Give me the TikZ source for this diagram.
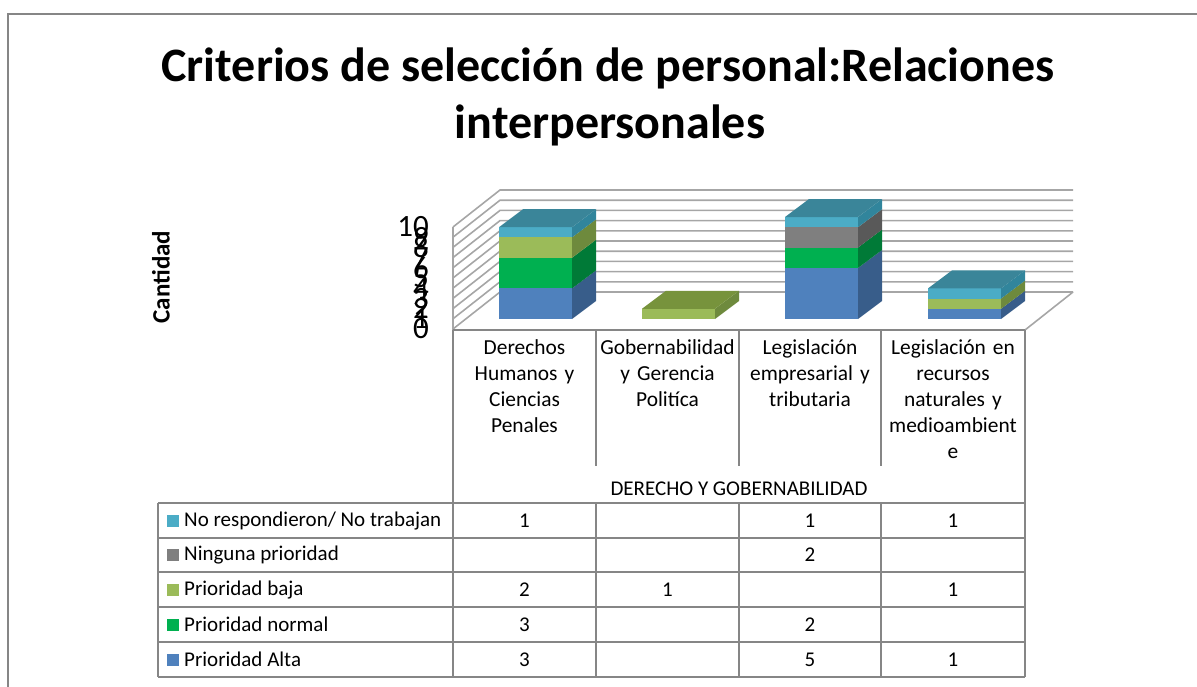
\documentclass[tikz,border=0pt]{standalone}
\usepackage{fontspec}
\setmainfont{Carlito}
\definecolor{calta}{HTML}{4F81BD}
\definecolor{caltaside}{HTML}{385D8A}
\definecolor{caltatop}{HTML}{41699C}
\definecolor{cnorm}{HTML}{00B050}
\definecolor{cnormside}{HTML}{007A37}
\definecolor{cnormtop}{HTML}{008F41}
\definecolor{cbaja}{HTML}{9BBB59}
\definecolor{cbajaside}{HTML}{6E8A3D}
\definecolor{cbajatop}{HTML}{77933C}
\definecolor{cning}{HTML}{7F7F7F}
\definecolor{cningside}{HTML}{595959}
\definecolor{cningtop}{HTML}{666666}
\definecolor{cnores}{HTML}{4BACC6}
\definecolor{cnoresside}{HTML}{31859C}
\definecolor{cnorestop}{HTML}{3A8599}
\definecolor{gridc}{HTML}{A6A6A6}
\definecolor{tabc}{HTML}{868686}
\def\bu{10.2}
\newcommand\mybarseg[4]{%
  \fill[#4] (#1,{319-\bu*#2}) rectangle ({#1+73},{319-\bu*#3});
  \fill[#4side] ({#1+73},{319-\bu*#2}) -- ({#1+97},{301-\bu*#2}) -- ({#1+97},{301-\bu*#3}) -- ({#1+73},{319-\bu*#3}) -- cycle;
}
\newcommand\mybartop[3]{%
  \fill[#3top] (#1,{319-\bu*#2}) -- ({#1+24},{301-\bu*#2}) -- ({#1+97},{301-\bu*#2}) -- ({#1+73},{319-\bu*#2}) -- cycle;
}
\tikzset{
  gridline/.style={draw=gridc, line width=1.6pt},
  tabline/.style={draw=tabc, line width=1.8pt},
  ylab/.style={anchor=east, inner sep=0pt, font=\fontsize{31}{31}\selectfont},
  catlab/.style={anchor=north, align=center, text width=142pt, inner sep=0pt, font=\fontsize{21.4}{26}\selectfont},
  cell/.style={inner sep=0pt, font=\fontsize{21}{24}\selectfont},
  legtext/.style={anchor=west, inner sep=0pt, font=\fontsize{21}{24}\selectfont},
  legbox/.style={minimum size=12pt, inner sep=0pt, draw=none}
}
\begin{document}
\begin{tikzpicture}[x=1pt,y=-1pt]
\useasboundingbox (0,0) rectangle (1197,686);
% outer frame
\draw[tabc, line width=1.6pt] (8,690) -- (8,14) -- (1200,14);
% title
\node[inner sep=0pt, font=\fontsize{48}{57}\bfseries\selectfont] (title1) at (608,68) {Criterios de selección de personal:Relaciones};
\node[inner sep=0pt, font=\fontsize{48}{57}\bfseries\selectfont] (title2) at (610,125) {interpersonales};
% axis title
\node[inner sep=0pt, rotate=90, font=\fontsize{25}{28}\bfseries\selectfont] (ytitle) at (161,277) {Cantidad};
% grid lines (side wall + back wall)
\foreach \v in {0,...,10}{
  \draw[gridline] (453,{329-\bu*\v}) -- (500,{292-\bu*\v}) -- (1073,{292-\bu*\v});
}
% floor right edge
\draw[gridline] (1073,292) -- (1025,330);
% y axis line
\draw[gridline] (453,{329-\bu*10}) -- (453,330);
% y labels
\foreach \v in {0,...,10}{
  \node[ylab] (y\v) at (429,{329-\bu*\v}) {\v};
}
% bars
% bar 1: Alta 3, normal 3, baja 2, nores 1
\mybarseg{499}{0}{3}{calta}
\mybarseg{499}{3}{6}{cnorm}
\mybarseg{499}{6}{8}{cbaja}
\mybarseg{499}{8}{9}{cnores}
\mybartop{499}{9}{cnores}
% bar 2: baja 1
\mybarseg{642}{0}{1}{cbaja}
\mybartop{642}{1}{cbaja}
% bar 3: Alta 5, normal 2, ninguna 2, nores 1
\mybarseg{785}{0}{5}{calta}
\mybarseg{785}{5}{7}{cnorm}
\mybarseg{785}{7}{9}{cning}
\mybarseg{785}{9}{10}{cnores}
\mybartop{785}{10}{cnores}
% bar 4: Alta 1, baja 1, nores 1
\mybarseg{928}{0}{1}{calta}
\mybarseg{928}{1}{2}{cbaja}
\mybarseg{928}{2}{3}{cnores}
\mybartop{928}{3}{cnores}
% table lines
\draw[tabline] (453,330) -- (1025,330);
\draw[tabline] (453,330) -- (453,677);
\draw[tabline] (1025,330) -- (1025,677);
\foreach \x in {596,739,881}{
  \draw[tabline] (\x,330) -- (\x,466);
  \draw[tabline] (\x,503) -- (\x,677);
}
\foreach \y in {503,538,572,607,642,677}{
  \draw[tabline] (158,\y) -- (1025,\y);
}
\draw[tabline] (158,503) -- (158,677);
% category labels
\node[catlab] (c1) at (524.5,339) {Derechos\\Humanos y\\Ciencias\\Penales};
\node[catlab] (c2) at (667.5,339) {Gobernabilidad\\y Gerencia\\Politíca};
\node[catlab] (c3) at (810,339) {Legislación\\empresarial y\\tributaria};
\node[catlab] (c4) at (953,339) {Legislación en\\recursos\\naturales y\\medioambient\\e};
\node[cell] (grp) at (739,489) {DERECHO Y GOBERNABILIDAD};
% legend
\node[legbox, fill=cnores] (k1) at (173,520.5) {};
\node[legbox, fill=cning] (k2) at (173,555) {};
\node[legbox, fill=cbaja] (k3) at (173,589.5) {};
\node[legbox, fill=cnorm] (k4) at (173,624.5) {};
\node[legbox, fill=calta] (k5) at (173,659.5) {};
\node[legtext] (l1) at (184,520.5) {No respondieron/ No trabajan};
\node[legtext] (l2) at (184,555) {Ninguna prioridad};
\node[legtext] (l3) at (184,589.5) {Prioridad baja};
\node[legtext] (l4) at (184,624.5) {Prioridad normal};
\node[legtext] (l5) at (184,659.5) {Prioridad Alta};
% values
\node[cell] (v11) at (524.5,520.5) {1};
\node[cell] (v13) at (810,520.5) {1};
\node[cell] (v14) at (953,520.5) {1};
\node[cell] (v23) at (810,555) {2};
\node[cell] (v31) at (524.5,589.5) {2};
\node[cell] (v32) at (667.5,589.5) {1};
\node[cell] (v34) at (953,589.5) {1};
\node[cell] (v41) at (524.5,624.5) {3};
\node[cell] (v43) at (810,624.5) {2};
\node[cell] (v51) at (524.5,659.5) {3};
\node[cell] (v53) at (810,659.5) {5};
\node[cell] (v54) at (953,659.5) {1};
\end{tikzpicture}
\end{document}
